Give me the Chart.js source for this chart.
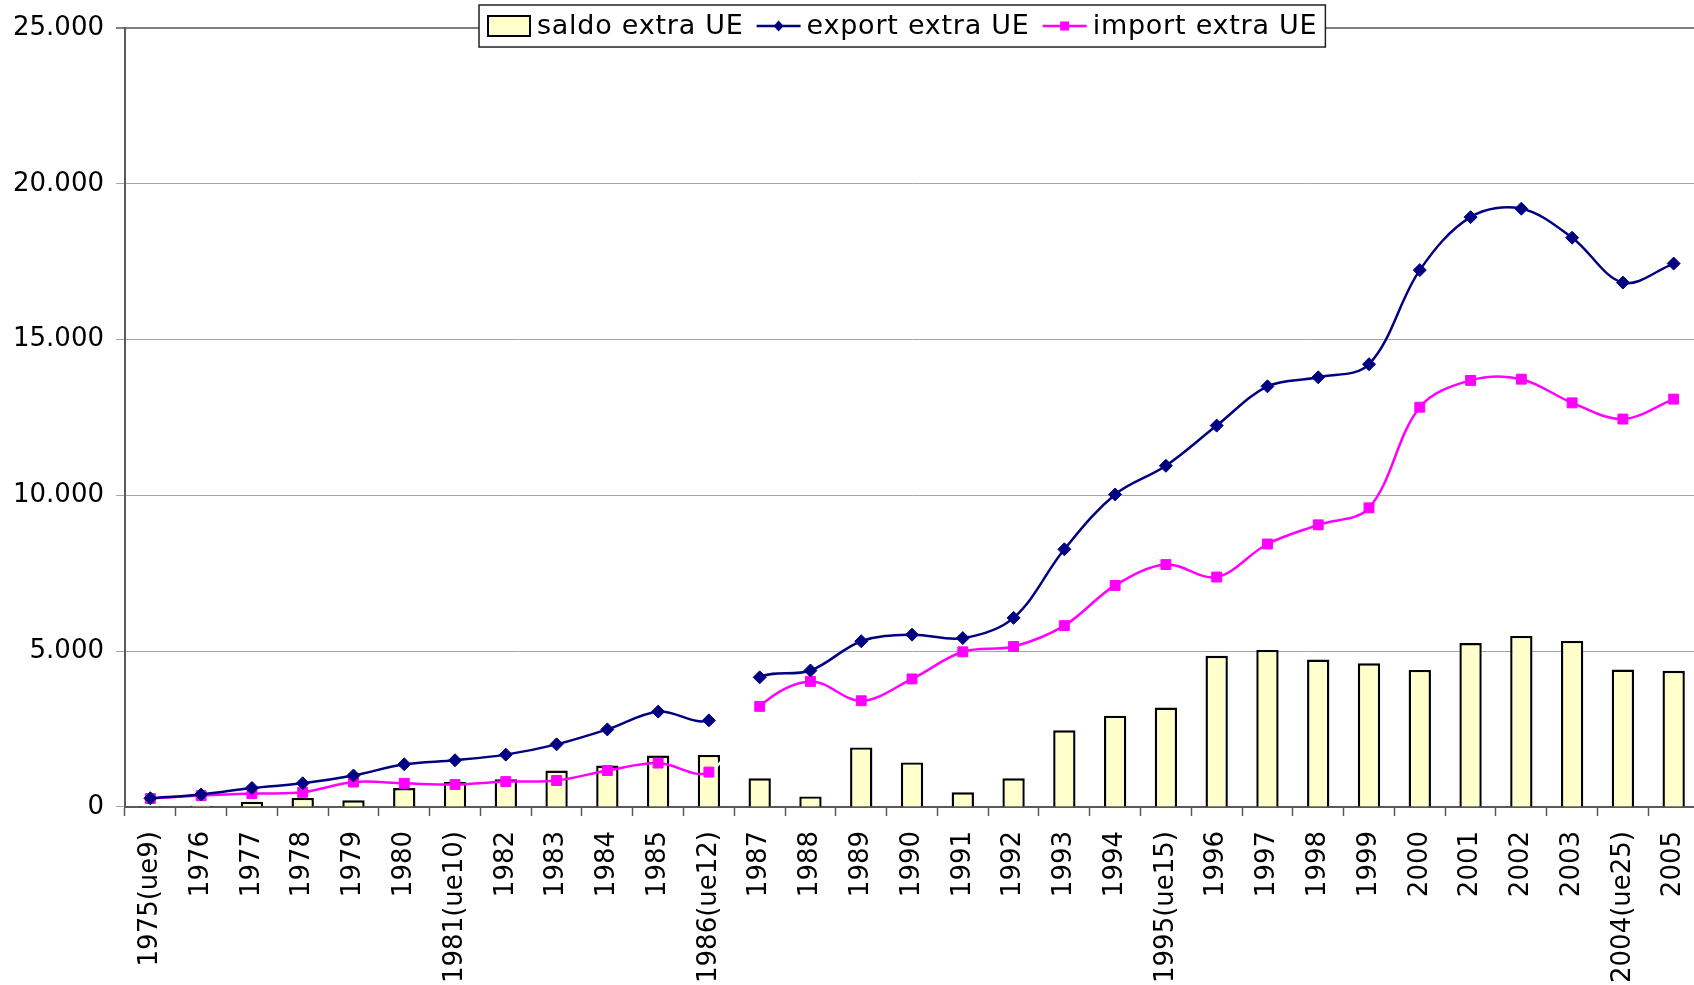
<!DOCTYPE html>
<html>
<head>
<meta charset="utf-8">
<script src="https://cdn.jsdelivr.net/npm/chart.js@4.4.1/dist/chart.umd.min.js"></script>
<style>
  html, body { margin: 0; padding: 0; background: #fff; overflow: hidden; }
  #wrap { width: 1720px; height: 985px; }
</style>
</head>
<body>
<div id="wrap"><canvas id="tradeChart" width="1720" height="985"></canvas></div>
<script>
const years = ['1975(ue9)','1976','1977','1978','1979','1980','1981(ue10)','1982','1983','1984','1985','1986(ue12)',
  '1987','1988','1989','1990','1991','1992','1993','1994','1995(ue15)','1996','1997','1998','1999','2000',
  '2001','2002','2003','2004(ue25)','2005'];

const saldo = [30, 40, 170, 290, 215, 610, 800, 890, 1170, 1330, 1650, 1670,
  920, 340, 1910, 1430, 470, 920, 2460, 2930, 3190, 4850, 5040, 4730, 4610, 4400,
  5260, 5490, 5330, 4410, 4370];

const exportVals = [280, 400, 610, 760, 1010, 1370, 1500, 1680, 2010, 2490, 3060, 2780,
  4160, 4380, 5320, 5530, 5420, 6070, 8270, 10030, 10950, 12240, 13500, 13790, 14210, 17230,
  18930, 19200, 18270, 16830, 17440];

const importVals = [270, 365, 430, 470, 800, 760, 720, 815, 850, 1170, 1410, 1120,
  3230, 4030, 3410, 4110, 4980, 5150, 5820, 7110, 7780, 7380, 8440, 9055, 9600, 12830,
  13690, 13730, 12970, 12450, 13090];

const yTicks = [0, 5000, 10000, 15000, 20000, 25000];

// the series are broken between 1986 and 1987 (segment drawn white, as in the original)
const breakAt = years.indexOf('1986(ue12)');

Chart.defaults.font.family = '"DejaVu Sans", Verdana, sans-serif';
Chart.defaults.font.size = 26;
Chart.defaults.color = '#000';

const fmt = v => String(v).replace(/\B(?=(\d{3})+(?!\d))/g, '.');

// legend in a framed box sitting on top of the plot
const boxLegend = {
  id: 'boxLegend',
  afterDraw(chart) {
    const c = chart.ctx;
    const ds = chart.data.datasets;
    c.save();
    c.font = '27px "DejaVu Sans", Verdana, sans-serif';
    if ('letterSpacing' in c) c.letterSpacing = '0.75px';
    const widths = ds.map(d => c.measureText(d.label).width);
    const markW = 44, gap = 6, sep = 13, pad = 8;
    let total = pad * 2;
    widths.forEach((w, i) => { total += markW + gap + w + (i ? sep : 0); });
    const left = 479, top = 5, h = 42, mid = top + h / 2;
    c.fillStyle = '#fff';
    c.fillRect(left, top, total, h);
    c.strokeStyle = '#222';
    c.lineWidth = 1.5;
    c.strokeRect(left, top, total, h);
    let x = left + pad;
    ds.forEach((d, i) => {
      const cx = x + markW / 2;
      if (d.type === 'line') {
        c.strokeStyle = d.borderColor;
        c.lineWidth = 2.5;
        c.beginPath();
        c.moveTo(x, mid); c.lineTo(x + markW, mid);
        c.stroke();
        c.fillStyle = d.borderColor;
        c.beginPath();
        if (d.pointStyle === 'rect') {
          c.rect(cx - 4.5, mid - 4.5, 9, 9);
        } else {
          c.moveTo(cx, mid - 5.5); c.lineTo(cx + 5, mid);
          c.lineTo(cx, mid + 5.5); c.lineTo(cx - 5, mid);
          c.closePath();
        }
        c.fill();
      } else {
        c.fillStyle = d.backgroundColor;
        c.fillRect(x + 1, mid - 10, markW - 2, 20);
        c.strokeStyle = '#000';
        c.lineWidth = 2;
        c.strokeRect(x + 1, mid - 10, markW - 2, 20);
      }
      c.fillStyle = '#000';
      c.textBaseline = 'middle';
      c.textAlign = 'left';
      c.fillText(d.label, x + markW + gap, mid + 1);
      x += markW + gap + widths[i] + sep;
    });
    c.restore();
  }
};

new Chart(document.getElementById('tradeChart').getContext('2d'), {
  type: 'bar',
  data: {
    labels: years,
    datasets: [{
      type: 'bar',
      label: 'saldo extra UE',
      data: saldo,
      backgroundColor: '#ffffcc',
      borderColor: '#000',
      borderWidth: 2.4,
      barPercentage: 0.44,
      categoryPercentage: 1,
      order: 3
    }, {
      type: 'line',
      label: 'export extra UE',
      data: exportVals,
      borderColor: '#000080',
      backgroundColor: '#000080',
      borderWidth: 2.5,
      pointStyle: 'rectRot',
      pointRadius: 6.5,
      pointBorderWidth: 1,
      tension: 0.35,
      fill: false,
      order: 1,
      segment: { borderColor: ctx => ctx.p0DataIndex === breakAt ? '#ffffff' : undefined }
    }, {
      type: 'line',
      label: 'import extra UE',
      data: importVals,
      borderColor: '#ff00ff',
      backgroundColor: '#ff00ff',
      borderWidth: 2.5,
      pointStyle: 'rect',
      pointRadius: 7,
      pointBorderWidth: 1,
      tension: 0.35,
      fill: false,
      order: 2,
      segment: { borderColor: ctx => ctx.p0DataIndex === breakAt ? '#ffffff' : undefined }
    }]
  },
  options: {
    responsive: false,
    animation: false,
    layout: { padding: { top: 28, left: 1, right: 0, bottom: -13 } },
    plugins: {
      legend: { display: false },
      tooltip: { enabled: false }
    },
    scales: {
      x: {
        grid: { drawOnChartArea: false, drawTicks: true, tickLength: 9, tickColor: '#595959', tickWidth: 1.5 },
        border: { color: '#595959', width: 2 },
        ticks: { autoSkip: false, maxRotation: 90, minRotation: 90, padding: 15, color: '#000' }
      },
      y: {
        min: 0,
        max: 25000,
        afterBuildTicks: axis => { axis.ticks = yTicks.map(v => ({ value: v })); },
        grid: {
          color: ctx => ctx.tick && ctx.tick.value === 25000 ? '#7f7f7f' : '#a6a6a6',
          lineWidth: ctx => ctx.tick && ctx.tick.value === 25000 ? 2 : 1,
          tickLength: 9
        },
        border: { color: '#595959', width: 2 },
        ticks: { padding: 12, color: '#000', callback: v => fmt(v) }
      }
    }
  },
  plugins: [boxLegend]
});
</script>
</body>
</html>
